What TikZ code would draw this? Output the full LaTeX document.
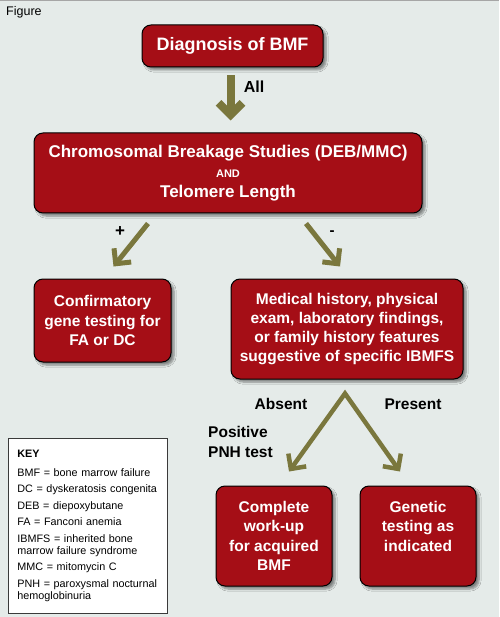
\documentclass[tikz,border=0pt]{standalone}
\usepackage{fontspec}
\setmainfont{Liberation Sans}
\usetikzlibrary{arrows.meta,calc,shadows.blur}
\definecolor{bg}{HTML}{E5EBE9}
\definecolor{boxred}{HTML}{A50E16}
\definecolor{olive}{HTML}{7A773D}
\definecolor{keyline}{HTML}{3A3A3A}
\begin{document}
\begin{tikzpicture}[x=1pt,y=-1pt,
  box/.style={draw=black, line width=1pt, fill=boxred, rounded corners=9pt, text=white,
    font=\bfseries\fontsize{15.5}{19.3}\selectfont, align=center, inner sep=0pt,
    blur shadow={shadow xshift=3pt,shadow yshift=-3pt,shadow blur steps=6,shadow opacity=45}},
  arr/.style={draw=olive, line width=5pt, line join=miter, -{Straight Barb[length=11pt,width=22pt]}},
  lbl/.style={font=\bfseries\fontsize{15.5}{19.5}\selectfont, text=black, inner sep=0pt}]
\fill[bg] (0,0) rectangle (499,617);
\useasboundingbox (0,0) rectangle (499,617);
\draw[gray!70, line width=1.5pt] (0,0.75) -- (499,0.75);

\node[anchor=west, inner sep=0pt, font=\fontsize{12.5}{14}\selectfont] (fig) at (6,12) {Figure};

\node[box, minimum width=181pt, minimum height=42pt, font=\bfseries\fontsize{18}{22}\selectfont] (diag) at (232.5,46) {Diagnosis of BMF};
\node[box, minimum width=388pt, minimum height=80pt, font=\bfseries\fontsize{17}{20}\selectfont] (chrom) at (228,173)
  {Chromosomal Breakage Studies (DEB/MMC)\\{\fontsize{11}{13}\selectfont AND}\\Telomere Length};
\node[box, minimum width=137pt, minimum height=83pt] (conf) at (102.5,320.5) {Confirmatory\\gene testing for\\FA or DC};
\node[box, minimum width=232pt, minimum height=100pt] (med) at (347,329)
  {Medical history, physical\\exam, laboratory findings,\\or family history features\\suggestive of specific IBMFS};
\node[box, minimum width=116pt, minimum height=100pt] (comp) at (274,536) {Complete\\work-up\\for acquired\\BMF};
\node[box, minimum width=116pt, minimum height=100pt] (gen) at (418,536) {Genetic\\testing as\\indicated\\\vphantom{BMF}};

\draw[arr, line width=8pt, -{Straight Barb[length=12pt,width=24pt]}] ($(diag.south)+(-2,8)$) -- ($(chrom.north)+(2.5,-12)$);
\node[lbl, font=\bfseries\fontsize{16}{19}\selectfont] (all) at (254,87) {All};

\draw[arr] ($(chrom.south)+(-80,10)$) -- ($(conf.north)+(11,-12)$);
\draw[arr] ($(chrom.south)+(78,10)$) -- ($(med.north)+(-7,-12)$);
\node[lbl, font=\bfseries\fontsize{17}{19}\selectfont] (plus) at (120,232) {+};
\node[lbl, font=\bfseries\fontsize{15}{17}\selectfont] (minus) at (332,233) {-};

\draw[arr, line width=4.5pt, {Straight Barb[length=11pt,width=22pt]}-{Straight Barb[length=11pt,width=22pt]}]
  ($(comp.north)+(15,-14)$) -- ($(med.south)+(-2,14)$) -- ($(gen.north)+(-18,-14)$);
\node[lbl] (absent) at (281,404) {Absent};
\node[lbl] (present) at (413,404) {Present};
\node[lbl, align=left, anchor=west] (pnh) at (208,442) {Positive\\PNH test};

\node[draw=keyline, line width=0.8pt, fill=white, anchor=north west, minimum width=159pt, minimum height=175pt,
  text width=141pt, inner xsep=9pt, align=left, font=\fontsize{10.8}{12}\selectfont] (key) at (8,438)
  {\textbf{KEY}\\[7pt]
   BMF = bone marrow failure\\[4.5pt]
   DC = dyskeratosis congenita\\[4.5pt]
   DEB = diepoxybutane\\[4.5pt]
   FA = Fanconi anemia\\[4.5pt]
   IBMFS = inherited bone\\marrow failure syndrome\\[4.5pt]
   MMC = mitomycin C\\[4.5pt]
   PNH = paroxysmal nocturnal\\hemoglobinuria};
\end{tikzpicture}
\end{document}
